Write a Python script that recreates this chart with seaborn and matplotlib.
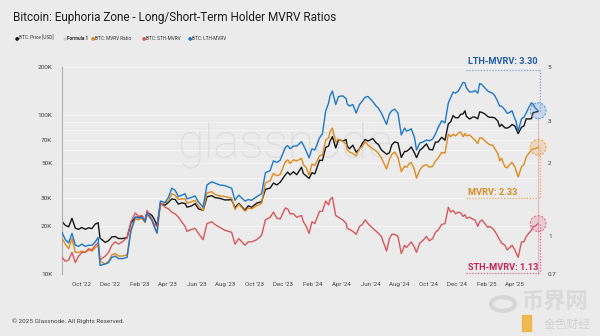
import matplotlib
matplotlib.use("Agg")
import matplotlib.pyplot as plt
import matplotlib.dates as mdates
import matplotlib.ticker as mticker
from matplotlib.patches import Circle, Rectangle
import numpy as np
import pandas as pd
import seaborn as sns

# ---- data -------------------------------------------------------------
dates = [
    "2022-08-22", "2022-08-29", "2022-09-05", "2022-09-12", "2022-09-19",
    "2022-09-26", "2022-10-03", "2022-10-10", "2022-10-17", "2022-10-24",
    "2022-10-31", "2022-11-06", "2022-11-10", "2022-11-21", "2022-11-28",
    "2022-12-05", "2022-12-12", "2022-12-19", "2022-12-27", "2023-01-06",
    "2023-01-14", "2023-01-23", "2023-01-30", "2023-02-06", "2023-02-13",
    "2023-02-17", "2023-02-27", "2023-03-03", "2023-03-10", "2023-03-17",
    "2023-03-27", "2023-04-03", "2023-04-10", "2023-04-17", "2023-04-24",
    "2023-05-01", "2023-05-08", "2023-05-12", "2023-05-22", "2023-05-29",
    "2023-06-05", "2023-06-15", "2023-06-23", "2023-07-03", "2023-07-10",
    "2023-07-20", "2023-07-31", "2023-08-14", "2023-08-21", "2023-08-29",
    "2023-09-11", "2023-09-18", "2023-09-25", "2023-10-06", "2023-10-16",
    "2023-10-24", "2023-11-03", "2023-11-10", "2023-11-17", "2023-11-24",
    "2023-12-05", "2023-12-10", "2023-12-15", "2023-12-22", "2023-12-29",
    "2024-01-08", "2024-01-12", "2024-01-18", "2024-01-24", "2024-01-30",
    "2024-02-05", "2024-02-15", "2024-02-21", "2024-02-28", "2024-03-05",
    "2024-03-08", "2024-03-13", "2024-03-20", "2024-03-26", "2024-04-04",
    "2024-04-11", "2024-04-13", "2024-04-18", "2024-04-25", "2024-05-02",
    "2024-05-09", "2024-05-15", "2024-05-21", "2024-05-27", "2024-06-06",
    "2024-06-13", "2024-06-18", "2024-06-24", "2024-07-05", "2024-07-11",
    "2024-07-16", "2024-07-22", "2024-07-29", "2024-08-05", "2024-08-12",
    "2024-08-16", "2024-08-22", "2024-08-26", "2024-09-02", "2024-09-06",
    "2024-09-13", "2024-09-19", "2024-09-27", "2024-10-03", "2024-10-10",
    "2024-10-16", "2024-10-21", "2024-10-29", "2024-11-05", "2024-11-12",
    "2024-11-17", "2024-11-22", "2024-11-27", "2024-12-03", "2024-12-08",
    "2024-12-13", "2024-12-17", "2024-12-20", "2024-12-27", "2025-01-02",
    "2025-01-07", "2025-01-13", "2025-01-17", "2025-01-22", "2025-01-28",
    "2025-02-03", "2025-02-07", "2025-02-13", "2025-02-18", "2025-02-24",
    "2025-02-28", "2025-03-04", "2025-03-11", "2025-03-16", "2025-03-21",
    "2025-03-26", "2025-04-01", "2025-04-03", "2025-04-08", "2025-04-15",
    "2025-04-20", "2025-04-25", "2025-04-30", "2025-05-06", "2025-05-09",
    "2025-05-13", "2025-05-20",
]

price_usd = [
    21400, 20200, 19800, 22400, 19400, 19100, 19600, 19100, 19500, 19300,
    20600, 21000, 16800, 15800, 16200, 17100, 17200, 16700, 16700, 16900,
    20900, 22700, 22800, 22900, 21800, 24500, 23400, 22400, 20200, 27400,
    27100, 28200, 29600, 29400, 27500, 28000, 27700, 26300, 26800, 27700,
    25700, 25100, 30500, 31100, 30200, 29900, 29200, 29300, 26100, 27800,
    25200, 26800, 26300, 27900, 28500, 34000, 34700, 37300, 36300, 37700,
    42000, 43700, 42000, 43900, 42100, 46900, 42800, 41300, 39900, 43300,
    42600, 51900, 51700, 62500, 63800, 68300, 73000, 62000, 70000, 68500,
    70000, 63900, 61300, 64500, 58300, 61200, 66200, 70100, 68500, 71000,
    66800, 65100, 60300, 56600, 57800, 64800, 67600, 66800, 54000, 59000,
    58900, 61000, 62900, 57500, 53900, 60000, 62000, 65800, 60700, 60200,
    67600, 67400, 72300, 69400, 88000, 90500, 98900, 96000, 96000, 101000,
    101400, 106000, 97800, 94200, 96900, 96900, 94500, 104500, 103600, 101300,
    97700, 96500, 96600, 95600, 91500, 84400, 87200, 82900, 82600, 84100,
    86900, 85200, 82500, 76300, 83700, 85100, 94600, 94200, 94700, 103000,
    104000, 105000,
]

mvrv = [
    0.98, 0.93, 0.89, 0.98, 0.86, 0.86, 0.87, 0.86, 0.88, 0.87,
    0.90, 0.92, 0.79, 0.77, 0.79, 0.84, 0.85, 0.83, 0.83, 0.84,
    1.05, 1.18, 1.17, 1.19, 1.14, 1.23, 1.17, 1.12, 1.04, 1.35,
    1.38, 1.40, 1.50, 1.48, 1.42, 1.43, 1.43, 1.37, 1.39, 1.41,
    1.34, 1.28, 1.51, 1.53, 1.49, 1.47, 1.46, 1.44, 1.29, 1.36,
    1.27, 1.31, 1.30, 1.34, 1.37, 1.66, 1.70, 1.82, 1.78, 1.80,
    2.03, 2.07, 2.00, 2.07, 2.05, 2.10, 1.98, 1.92, 1.79, 1.99,
    1.96, 2.15, 2.17, 2.50, 2.55, 2.70, 2.80, 2.45, 2.52, 2.47,
    2.40, 2.28, 2.23, 2.20, 2.15, 2.30, 2.35, 2.46, 2.38, 2.30,
    2.25, 2.20, 2.11, 1.90, 2.08, 2.18, 2.23, 2.12, 1.85, 1.95,
    1.93, 2.00, 2.02, 1.88, 1.74, 1.88, 1.95, 1.98, 1.93, 1.95,
    2.05, 2.10, 2.22, 2.21, 2.64, 2.58, 2.64, 2.60, 2.67, 2.70,
    2.58, 2.66, 2.60, 2.62, 2.55, 2.50, 2.42, 2.55, 2.55, 2.48,
    2.42, 2.39, 2.38, 2.30, 2.20, 2.05, 2.10, 1.94, 1.92, 1.98,
    2.02, 1.94, 1.88, 1.76, 1.94, 1.98, 2.13, 2.20, 2.27, 2.30,
    2.30, 2.33,
]

sth_mvrv = [
    0.82, 0.79, 0.80, 0.86, 0.78, 0.83, 0.86, 0.86, 0.89, 0.88,
    0.92, 0.94, 0.80, 0.83, 0.86, 0.92, 0.95, 0.93, 0.95, 0.99,
    1.15, 1.25, 1.21, 1.22, 1.17, 1.28, 1.18, 1.13, 1.10, 1.38,
    1.32, 1.30, 1.26, 1.24, 1.20, 1.15, 1.10, 1.05, 1.07, 1.08,
    1.03, 0.97, 1.13, 1.15, 1.12, 1.09, 1.06, 1.04, 0.93, 0.98,
    0.92, 0.95, 0.95, 0.97, 1.01, 1.17, 1.20, 1.26, 1.19, 1.18,
    1.31, 1.30, 1.24, 1.24, 1.20, 1.22, 1.15, 1.10, 1.03, 1.15,
    1.13, 1.27, 1.27, 1.40, 1.35, 1.42, 1.45, 1.22, 1.20, 1.17,
    1.13, 1.08, 1.07, 1.05, 1.02, 1.10, 1.12, 1.17, 1.13, 1.08,
    1.05, 1.03, 1.00, 0.87, 0.98, 1.02, 1.02, 1.00, 0.85, 0.92,
    0.90, 0.93, 0.95, 0.90, 0.86, 0.94, 0.96, 1.00, 0.96, 0.98,
    1.04, 1.06, 1.12, 1.13, 1.32, 1.26, 1.28, 1.24, 1.26, 1.25,
    1.21, 1.23, 1.19, 1.20, 1.18, 1.17, 1.10, 1.15, 1.17, 1.13,
    1.09, 1.10, 1.08, 1.05, 1.00, 0.97, 0.94, 0.92, 0.88, 0.90,
    0.92, 0.88, 0.86, 0.82, 0.95, 0.95, 1.00, 1.03, 1.06, 1.10,
    1.10, 1.13,
]

lth_mvrv = [
    1.04, 0.97, 0.94, 1.03, 0.92, 0.91, 0.93, 0.91, 0.92, 0.92,
    0.95, 0.99, 0.76, 0.77, 0.78, 0.82, 0.83, 0.81, 0.81, 0.82,
    1.06, 1.20, 1.19, 1.20, 1.15, 1.25, 1.17, 1.11, 1.03, 1.40,
    1.38, 1.45, 1.58, 1.55, 1.46, 1.48, 1.50, 1.43, 1.45, 1.47,
    1.39, 1.32, 1.63, 1.68, 1.66, 1.63, 1.62, 1.58, 1.41, 1.48,
    1.40, 1.42, 1.41, 1.46, 1.50, 1.83, 1.87, 2.05, 2.02, 2.06,
    2.33, 2.37, 2.30, 2.36, 2.36, 2.46, 2.38, 2.25, 2.11, 2.30,
    2.27, 2.55, 2.65, 3.30, 3.55, 3.80, 3.98, 3.50, 3.78, 3.80,
    3.70, 3.52, 3.45, 3.50, 3.23, 3.50, 3.62, 3.75, 3.78, 3.60,
    3.45, 3.38, 3.23, 2.90, 3.20, 3.30, 3.35, 3.23, 2.62, 2.80,
    2.72, 2.75, 2.78, 2.55, 2.27, 2.43, 2.45, 2.50, 2.48, 2.52,
    2.65, 2.80, 3.00, 2.94, 3.56, 3.75, 3.94, 3.90, 3.98, 4.15,
    4.32, 4.30, 4.10, 3.94, 3.95, 4.00, 3.90, 4.28, 4.22, 4.10,
    3.98, 3.94, 3.90, 3.80, 3.60, 3.45, 3.45, 3.33, 3.22, 3.25,
    3.30, 3.06, 3.00, 2.72, 3.06, 3.10, 3.23, 3.40, 3.56, 3.52,
    3.40, 3.30,
]

price_ticks = [10000, 20000, 30000, 50000, 70000, 100000, 200000]
price_tick_labels = ["10K", "20K", "30K", "50K", "70K", "100K", "200K"]
ratio_ticks = [0.7, 1, 2, 3, 5]
ratio_tick_labels = ["0.7", "1", "2", "3", "5"]

legend_labels = ["BTC: Price [USD]", "Formula 1", "BTC: MVRV Ratio",
                 "BTC: STH-MVRV", "BTC: LTH-MVRV"]

# ---- styling ----------------------------------------------------------
BG = "#ebebeb"
C_PRICE = "#161616"
C_MVRV = "#e08a1c"
C_STH = "#d9575a"
C_LTH = "#1d78c9"
C_FORMULA = "#cfcfcf"

sns.set_theme(style="white")
plt.rcParams["font.family"] = ["Roboto", "Noto Sans CJK SC", "DejaVu Sans"]

df = pd.DataFrame({
    "date": pd.to_datetime(dates),
    "price": price_usd,
    "mvrv": mvrv,
    "sth": sth_mvrv,
    "lth": lth_mvrv,
})

fig = plt.figure(figsize=(6.0, 3.36), dpi=100, facecolor=BG)
ax = fig.add_axes([62 / 600, 1 - 274 / 336, (541 - 62) / 600, (274 - 67) / 336])
ax.set_facecolor(BG)
ax2 = ax.twinx()

# price axis (left, log)
ax.set_yscale("log")
ax.set_ylim(1e4, 2e5)
for g in list(range(10000, 100000, 10000)) + [100000, 200000]:
    ax.axhline(g, color="#f6f6f6", lw=0.6, zorder=0)

# watermark
ax.text(0.465, 0.62, "glassnode", transform=ax.transAxes, ha="center",
        va="center", fontsize=35, color="#dddddd", zorder=0.5,
        fontweight="light", family=["Roboto", "DejaVu Sans"])

sns.lineplot(data=df, x="date", y="price", ax=ax, color=C_PRICE, lw=1.0,
             legend=False)

for col, c in [("mvrv", C_MVRV), ("sth", C_STH), ("lth", C_LTH)]:
    sns.lineplot(data=df, x="date", y=col, ax=ax2, color=c, lw=1.0,
                 legend=False)

ax2.set_yscale("log")
ax2.set_ylim(0.7, 5)

ax.set_xlim(pd.Timestamp("2022-08-22"), pd.Timestamp("2025-05-26"))

ax.yaxis.set_major_locator(mticker.FixedLocator(price_ticks))
ax.yaxis.set_major_formatter(mticker.FixedFormatter(price_tick_labels))
ax.yaxis.set_minor_locator(mticker.NullLocator())
ax2.yaxis.set_major_locator(mticker.FixedLocator(ratio_ticks))
ax2.yaxis.set_major_formatter(mticker.FixedFormatter(ratio_tick_labels))
ax2.yaxis.set_minor_locator(mticker.NullLocator())

ax.xaxis.set_major_locator(mdates.MonthLocator(bymonth=[2, 4, 6, 8, 10, 12]))
ax.xaxis.set_major_formatter(mdates.DateFormatter("%b '%y"))

ax.set_xlabel("")
ax.set_ylabel("")
ax2.set_ylabel("")

ax.tick_params(axis="y", length=0, pad=7, labelsize=4.6, labelcolor="#444444")
ax2.tick_params(axis="y", length=0, pad=5, labelsize=4.6, labelcolor="#444444")
ax.tick_params(axis="x", length=3, width=0.5, color="#c9c9c9", pad=3,
               labelsize=4.4, labelcolor="#444444")

for a in (ax, ax2):
    for s in a.spines.values():
        s.set_visible(False)
ax.spines["left"].set_visible(True)
ax.spines["left"].set_color("#b0b0b0")
ax.spines["left"].set_linewidth(0.8)

# ---- end-of-series call-outs -------------------------------------------
end_date = df["date"].iloc[-1]
end_num = mdates.date2num(end_date)
to_axes = ax2.transAxes.inverted()
xe = to_axes.transform(ax2.transData.transform((end_num, 1.0)))[0]

callouts = [
    ("LTH-MVRV", lth_mvrv[-1], "#5b9be0", "#1d5aa8", "#7f9fd8", 0.986, 1.027),
    ("MVRV", mvrv[-1], "#eda24a", "#d88a1f", "#e0a860", 0.367, 0.395),
    ("STH-MVRV", sth_mvrv[-1], "#e36f95", "#c2235a", "#d8628c", 0.005, 0.033),
]

ye_lth = to_axes.transform(ax2.transData.transform((end_num, lth_mvrv[-1])))[1]
ax2.plot([xe, xe], [0, ye_lth - 0.03], transform=ax2.transAxes,
         color="#efb4b4", lw=0.8, clip_on=False, zorder=1)

for name, val, mcol, tcol, dcol, y_line, y_text in callouts:
    ym = to_axes.transform(ax2.transData.transform((end_num, val)))[1]
    ax2.scatter([end_date], [val], s=130, facecolor=mcol, alpha=0.25,
                edgecolor="none", zorder=4, clip_on=False)
    ax2.scatter([end_date], [val], s=130, facecolor="none", edgecolor=mcol,
                linewidths=0.8, linestyle=(0, (2, 1.5)), zorder=5,
                clip_on=False)
    ax2.plot([0.843, xe + 0.004], [y_line, y_line], transform=ax2.transAxes,
             color=dcol, lw=0.9, ls=(0, (1, 1.3)), clip_on=False)
    ax2.plot([xe + 0.004, xe + 0.004], [ym, y_line], transform=ax2.transAxes,
             color=dcol, lw=0.9, ls=(0, (1, 1.3)), clip_on=False)
    ax2.text(0.848, y_text, f"{name}: {val:.2f}", transform=ax2.transAxes,
             ha="left", va="center", fontsize=6.6, fontweight="bold",
             color=tcol, clip_on=False)

# ---- title, legend, footer ---------------------------------------------
fig.text(13 / 600, 1 - 18 / 336, "Bitcoin: Euphoria Zone - Long/Short-Term Holder MVRV Ratios",
         ha="left", va="center", fontsize=8.5, color="#1e1e1e")

legend_items = [
    (15, C_PRICE, legend_labels[0]),
    (63, C_FORMULA, legend_labels[1]),
    (91, C_MVRV, legend_labels[2]),
    (142, C_STH, legend_labels[3]),
    (188, C_LTH, legend_labels[4]),
]
for x0, c, lab in legend_items:
    fig.text(x0 / 600, 1 - 38 / 336, "\u25cf", ha="left", va="center",
             fontsize=3.6, color=c, family=["DejaVu Sans"])
    fig.text((x0 + 4) / 600, 1 - 38 / 336, lab, ha="left", va="center",
             fontsize=3.4, color="#333333",
             fontweight="bold" if lab == "Formula 1" else "normal")

fig.text(12 / 600, 1 - 321 / 336, "\u00a9 2025 Glassnode. All Rights Reserved.",
         ha="left", va="center", fontsize=4.6, color="#444444")

# publisher marks in the lower-right corner
fig.patches.append(Circle((503 / 600, 1 - 304 / 336), 12 / 600,
                          transform=fig.transFigure, facecolor="none",
                          edgecolor="#d6d6d6", lw=3.0, zorder=0))
fig.text(555 / 600, 1 - 302 / 336, "币界网", ha="center", va="center",
         fontsize=16, color="#d9d9d9", fontweight="bold", zorder=0)
fig.text(567 / 600, 1 - 324 / 336, "金色财经", ha="center", va="center",
         fontsize=8.5, color="#d2d2d2", zorder=1)
fig.patches.append(Rectangle((522 / 600, 1 - 331 / 336), 9 / 600, 16 / 336,
                             transform=fig.transFigure, color="#f0b23a",
                             alpha=0.85, zorder=1))

fig.savefig("out.png", dpi=100, facecolor=BG)
